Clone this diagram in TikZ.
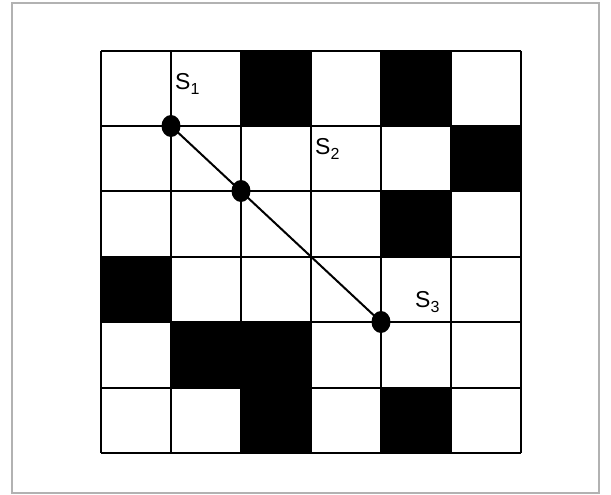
\documentclass[tikz,border=0pt]{standalone}
\usepackage{fontspec}
\setmainfont{Liberation Sans}
\usetikzlibrary{shapes.geometric}
\begin{document}
\begin{tikzpicture}[x=1pt,y=-1pt,
  cell/.style={fill=black},
  gridline/.style={draw=black,line width=2pt},
  dot/.style={ellipse,fill=black,inner sep=0pt,minimum width=19pt,minimum height=22pt},
  link/.style={draw=black,line width=2pt},
  lab/.style={anchor=base west,inner sep=0pt,font=\fontsize{23}{26}\selectfont}]
\useasboundingbox (0,0) rectangle (611,495);
\fill[white] (0,0) rectangle (611,495);
\draw[black!30,line width=1.2pt] (12,3) rectangle (599,493);
% black cells
\fill[cell] (241,51) rectangle (311,126);
\fill[cell] (381,51) rectangle (451,126);
\fill[cell] (451,126) rectangle (521,191);
\fill[cell] (381,191) rectangle (451,257);
\fill[cell] (101,257) rectangle (171,322);
\fill[cell] (171,322) rectangle (311,388);
\fill[cell] (241,388) rectangle (311,453);
\fill[cell] (381,388) rectangle (451,453);
% grid
\foreach \x in {101,171,241,311,381,451,521} \draw[gridline] (\x,51) -- (\x,453);
\foreach \y in {51,126,191,257,322,388,453} \draw[gridline] (101,\y) -- (521,\y);
% points
\coordinate (p1) at (171,126);
\coordinate (p3) at (381,322);
\draw[link] (p1) -- (p3);
\node[dot] (s1) at (p1) {};
\node[dot] (s2) at (241,191) {};
\node[dot] (s3) at (p3) {};
% labels
\node[lab] (l1) at (175,90) {S\raisebox{-5pt}{\fontsize{16}{16}\selectfont 1}};
\node[lab] (l2) at (315,154) {S\raisebox{-5pt}{\fontsize{16}{16}\selectfont 2}};
\node[lab] (l3) at (415,307) {S\raisebox{-5pt}{\fontsize{16}{16}\selectfont 3}};
\end{tikzpicture}
\end{document}
